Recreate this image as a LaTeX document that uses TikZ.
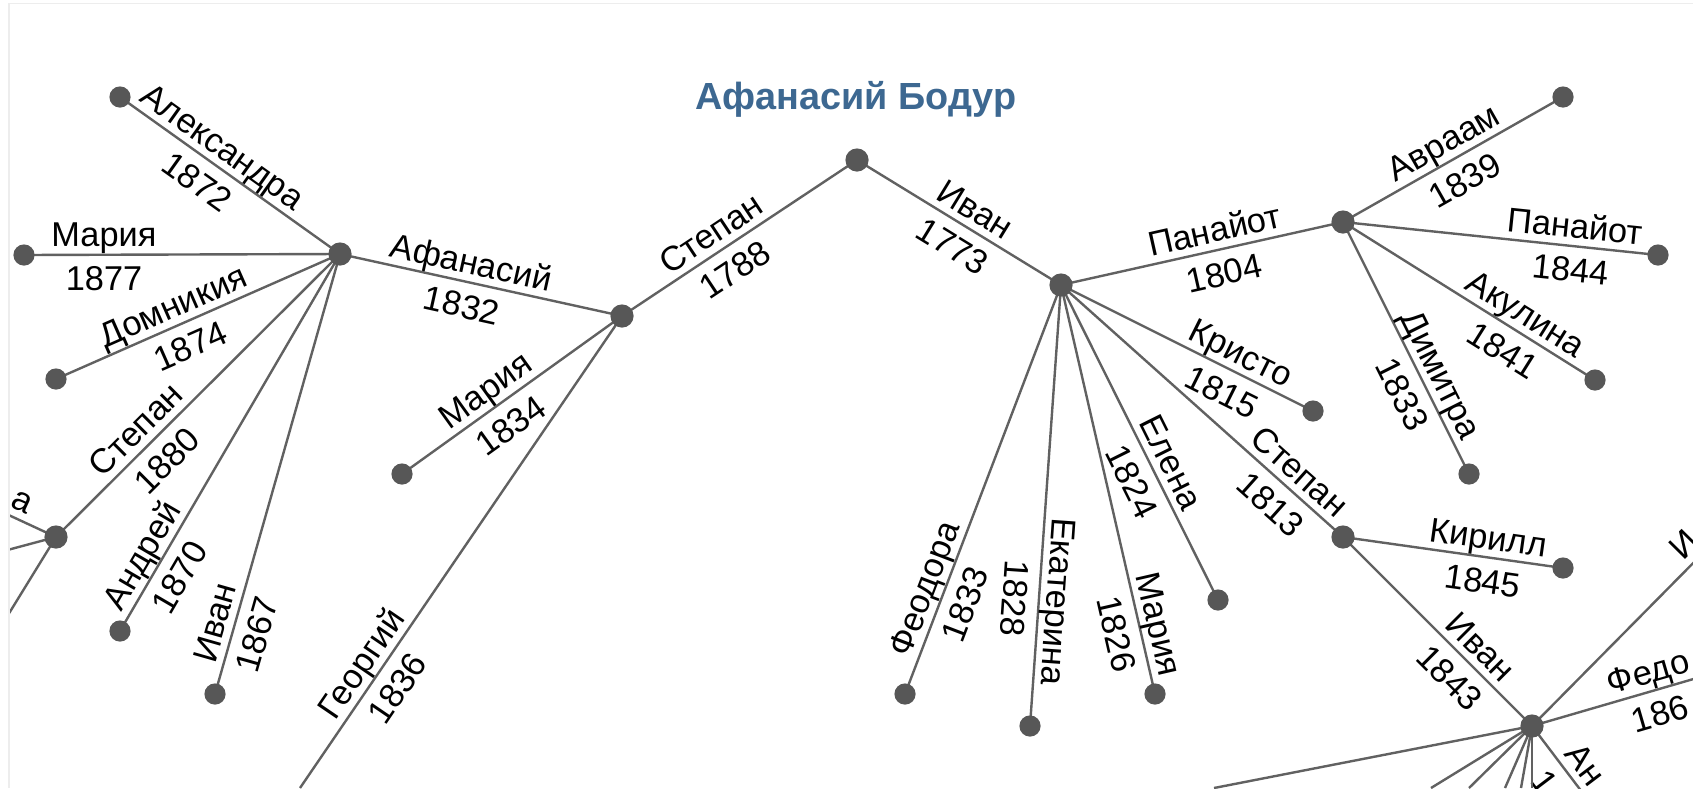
\documentclass[tikz,border=0pt]{standalone}
\usepackage{fontspec}
\setmainfont{Liberation Sans}
\definecolor{edgegray}{HTML}{616161}
\definecolor{dotgray}{HTML}{575757}
\definecolor{titleblue}{HTML}{3D6891}
\definecolor{framegray}{HTML}{EDEDED}
\pgfdeclarelayer{edges}
\pgfsetlayers{edges,main}
\newcommand\nmup[1]{\raisebox{4pt}{#1}}
\newcommand\yrdn[1]{\raisebox{-18pt}{#1}}
\tikzset{
  edge/.style={draw=edgegray, line width=1.2pt},
  inode/.style={circle, fill=dotgray, inner sep=0pt, minimum size=11.6pt},
  leaf/.style={circle, fill=dotgray, inner sep=0pt, minimum size=10.6pt},
  lab/.style={sloped, allow upside down, anchor=base, inner sep=0pt,
    font=\fontsize{17.2}{20}\selectfont, text=black},
  titlestyle/.style={anchor=base, inner sep=0pt,
    font=\bfseries\fontsize{18.9}{22}\selectfont, text=titleblue},
}
\begin{document}
\begin{tikzpicture}[x=0.5pt,y=-0.5pt]
\useasboundingbox (0,0) rectangle (1693,788);
\draw[framegray, line width=0.6pt] (9,788) -- (9,3.5) -- (1693,3.5);
\node[titlestyle] (title) at (856,109) {Афанасий Бодур};
\begin{scope}
\clip (9.5,4) rectangle (1693,788);
% internal nodes
\node[inode] (R) at (857,160) {};
\node[inode] (S) at (622,316) {};
\node[inode] (I) at (1061,285) {};
\node[inode] (A) at (340,254) {};
\node[inode] (P) at (1343,222) {};
\node[inode] (St) at (1343,537) {};
\node[inode] (J) at (1532,726) {};
\node[inode] (S80) at (56,537) {};
% leaves
\node[leaf] (lalex) at (120,97) {};
\node[leaf] (lmar77) at (24,255) {};
\node[leaf] (ldom) at (56,379) {};
\node[leaf] (landr) at (120,631) {};
\node[leaf] (livan67) at (215,694) {};
\node[leaf] (lmar34) at (402,474) {};
\node[leaf] (lkrist) at (1313,411) {};
\node[leaf] (lelena) at (1218,600) {};
\node[leaf] (lmar26) at (1155,694) {};
\node[leaf] (lekat) at (1030,726) {};
\node[leaf] (lfeod) at (905,694) {};
\node[leaf] (lavr) at (1563,97) {};
\node[leaf] (lpan44) at (1658,255) {};
\node[leaf] (lakul) at (1595,380) {};
\node[leaf] (ldim) at (1469,474) {};
\node[leaf] (lkir) at (1563,568) {};
% off-picture ends
\coordinate (cgeo) at (300,788);
\coordinate (s80a) at (0,511);
\coordinate (s80b) at (0,552);
\coordinate (s80c) at (0,628);
\coordinate (cj1) at (1800,455);
\coordinate (cj2) at (1800,648);
\coordinate (cj3) at (1610,829);
\coordinate (cj4) at (1214,788);
\coordinate (cj5) at (1431,788);
\coordinate (cj6) at (1469,788);
\coordinate (cj7) at (1505,788);
\coordinate (cj8) at (1521,788);
\coordinate (cj9) at (1532,788);
\begin{pgfonlayer}{edges}
\clip (9.5,4) rectangle (1693,788);
% children of A
\draw[edge] (lalex.center) -- node[lab,pos=.415]{\nmup{Александра}} node[lab,pos=.415]{\yrdn{1872}} (A.center);
\draw[edge] (lmar77.center) -- node[lab,pos=.253]{\nmup{Мария}} node[lab,pos=.253]{\yrdn{1877}} (A.center);
\draw[edge] (ldom.center) -- node[lab,pos=.44]{\nmup{Домникия}} node[lab,pos=.44]{\yrdn{1874}} (A.center);
\draw[edge] (S80.center) -- node[lab,pos=.33]{\nmup{Степан}} node[lab,pos=.33]{\yrdn{1880}} (A.center);
\draw[edge] (landr.center) -- node[lab,pos=.175]{\nmup{Андрей}} node[lab,pos=.175]{\yrdn{1870}} (A.center);
\draw[edge] (livan67.center) -- node[lab,pos=.15]{\nmup{Иван}} node[lab,pos=.15]{\yrdn{1867}} (A.center);
% children of S80
\draw[edge] (s80a) -- node[lab,pos=.27]{\nmup{а}} (S80.center);
\draw[edge] (s80b) -- (S80.center);
\draw[edge] (s80c) -- (S80.center);
% children of S
\draw[edge] (A.center) -- node[lab,pos=.45]{\nmup{Афанасий}} node[lab,pos=.45]{\yrdn{1832}} (S.center);
\draw[edge] (lmar34.center) -- node[lab,pos=.43]{\nmup{Мария}} node[lab,pos=.43]{\yrdn{1834}} (S.center);
\draw[edge] (cgeo) -- node[lab,pos=.24]{\nmup{Георгий}} node[lab,pos=.24]{\yrdn{1836}} (S.center);
% root
\draw[edge] (S.center) -- node[lab,pos=.425]{\nmup{Степан}} node[lab,pos=.425]{\yrdn{1788}} (R.center);
\draw[edge] (R.center) -- node[lab,pos=.53]{\nmup{Иван}} node[lab,pos=.53]{\yrdn{1773}} (I.center);
% children of I
\draw[edge] (I.center) -- node[lab,pos=.56]{\nmup{Панайот}} node[lab,pos=.56]{\yrdn{1804}} (P.center);
\draw[edge] (I.center) -- node[lab,pos=.68]{\nmup{Кристо}} node[lab,pos=.68]{\yrdn{1815}} (lkrist.center);
\draw[edge] (I.center) -- node[lab,pos=.80]{\nmup{Степан}} node[lab,pos=.80]{\yrdn{1813}} (St.center);
\draw[edge] (I.center) -- node[lab,pos=.59]{\nmup{Елена}} node[lab,pos=.59]{\yrdn{1824}} (lelena.center);
\draw[edge] (I.center) -- node[lab,pos=.84]{\nmup{Мария}} node[lab,pos=.84]{\yrdn{1826}} (lmar26.center);
\draw[edge] (I.center) -- node[lab,pos=.715]{\nmup{Екатерина}} node[lab,pos=.715]{\yrdn{1828}} (lekat.center);
\draw[edge] (lfeod.center) -- node[lab,pos=.24]{\nmup{Феодора}} node[lab,pos=.24]{\yrdn{1833}} (I.center);
% children of P
\draw[edge] (P.center) -- node[lab,pos=.5]{\nmup{Авраам}} node[lab,pos=.5]{\yrdn{1839}} (lavr.center);
\draw[edge] (P.center) -- node[lab,pos=.73]{\nmup{Панайот}} node[lab,pos=.73]{\yrdn{1844}} (lpan44.center);
\draw[edge] (P.center) -- node[lab,pos=.685]{\nmup{Акулина}} node[lab,pos=.685]{\yrdn{1841}} (lakul.center);
\draw[edge] (P.center) -- node[lab,pos=.64]{\nmup{Димитра}} node[lab,pos=.64]{\yrdn{1833}} (ldim.center);
% children of St
\draw[edge] (St.center) -- node[lab,pos=.65]{\nmup{Кирилл}} node[lab,pos=.65]{\yrdn{1845}} (lkir.center);
\draw[edge] (St.center) -- node[lab,pos=.655]{\nmup{Иван}} node[lab,pos=.655]{\yrdn{1843}} (J.center);
% children of J
\draw[edge] (J.center) -- node[lab,pos=.62]{\nmup{И}} (cj1);
\draw[edge] (J.center) -- node[lab,pos=.453]{\nmup{Федо}} node[lab,pos=.453]{\yrdn{186}} (cj2);
\draw[edge] (J.center) -- node[lab,pos=.49]{\nmup{Ан}} node[lab,pos=.405]{\yrdn{1}} (cj3);
\draw[edge] (J.center) -- (cj4);
\draw[edge] (J.center) -- (cj5);
\draw[edge] (J.center) -- (cj6);
\draw[edge] (J.center) -- (cj7);
\draw[edge] (J.center) -- (cj8);
\draw[edge] (J.center) -- (cj9);
\end{pgfonlayer}
\end{scope}
\end{tikzpicture}
\end{document}
